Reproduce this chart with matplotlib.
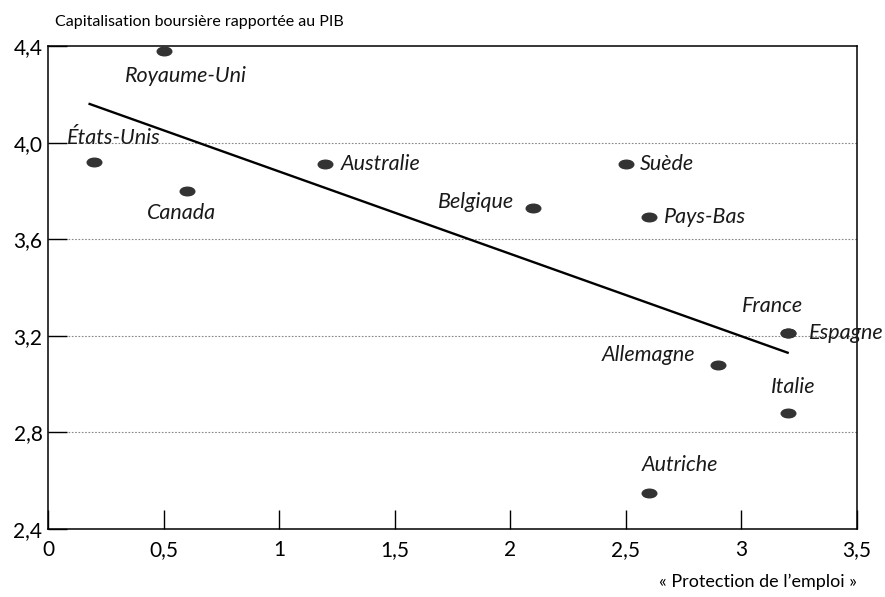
import numpy as np
import matplotlib
matplotlib.use("Agg")
from matplotlib import pyplot as plt
from matplotlib.path import Path
from matplotlib.transforms import Affine2D

plt.rcParams['font.family'] = ['Lato', 'DejaVu Sans']

# Data
countries = ['Royaume-Uni', 'États-Unis', 'Canada', 'Australie', 'Belgique', 'Suède',
             'Pays-Bas', 'France', 'Espagne', 'Allemagne', 'Italie', 'Autriche']
protection = [0.5, 0.2, 0.6, 1.2, 2.1, 2.5, 2.6, 3.2, 3.2, 2.9, 3.2, 2.6]
capitalisation = [4.38, 3.92, 3.80, 3.91, 3.73, 3.91, 3.69, 3.21, 3.21, 3.08, 2.88, 2.55]

# Trend line end points
trend_x = [0.18, 3.2]
trend_y = [4.16, 3.13]

x_ticks = [0, 0.5, 1, 1.5, 2, 2.5, 3, 3.5]
x_tick_labels = ['0', '0,5', '1', '1,5', '2', '2,5', '3', '3,5']
y_ticks = [2.4, 2.8, 3.2, 3.6, 4.0, 4.4]
y_tick_labels = ['2,4', '2,8', '3,2', '3,6', '4,0', '4,4']
grid_levels = [2.8, 3.2, 3.6, 4.0]

# label offsets in points (dx, dy, horizontal alignment)
label_offsets = {
    'Royaume-Uni': (16, -18, 'center'),
    'États-Unis': (14, 17, 'center'),
    'Canada': (-4, -16, 'center'),
    'Australie': (11, 0, 'left'),
    'Belgique': (-14, 4, 'right'),
    'Suède': (10, 0, 'left'),
    'Pays-Bas': (11, 0, 'left'),
    'France': (-11, 20, 'center'),
    'Espagne': (15, 0, 'left'),
    'Allemagne': (-17, 7, 'right'),
    'Italie': (4, 19, 'center'),
    'Autriche': (22, 20, 'center'),
}

fig = plt.figure(figsize=(8.85, 5.97), dpi=100)
ax = fig.add_axes([48 / 885, 1 - 529 / 597, 809 / 885, 483 / 597])

for level in grid_levels:
    ax.axhline(level, color='#888888', lw=0.8, ls=(0, (1.5, 1.5)), zorder=1)

ax.plot(trend_x, trend_y, color='black', lw=1.7, zorder=2)

ellipse = Path.unit_circle().transformed(Affine2D().scale(1.7, 1.0))
ax.plot(protection, capitalisation, ls='none', marker=ellipse, markersize=10.5,
        color='#333333', zorder=3)

for name, x, y in zip(countries, protection, capitalisation):
    dx, dy, ha = label_offsets[name]
    ax.annotate(name, (x, y), xytext=(dx, dy), textcoords='offset points',
                ha=ha, va='center', fontsize=15.5, style='italic', color='#1a1a1a')

ax.set_xlim(0, 3.5)
ax.set_ylim(2.4, 4.4)
ax.set_xticks(x_ticks)
ax.set_xticklabels(x_tick_labels)
ax.set_yticks(y_ticks)
ax.set_yticklabels(y_tick_labels)
ax.tick_params(axis='both', direction='in', length=14, width=1.0, labelsize=15, colors='black')
ax.tick_params(axis='x', pad=8)
ax.tick_params(axis='y', pad=4)
for spine in ax.spines.values():
    spine.set_linewidth(1.1)

fig.text(55 / 885, 1 - 22 / 597, 'Capitalisation boursière rapportée au PIB',
         fontsize=11.5, ha='left', va='center')
fig.text(857 / 885, 1 - 582 / 597, '« Protection de l’emploi »',
         fontsize=13, ha='right', va='center')

plt.savefig('out.png', dpi=100)
